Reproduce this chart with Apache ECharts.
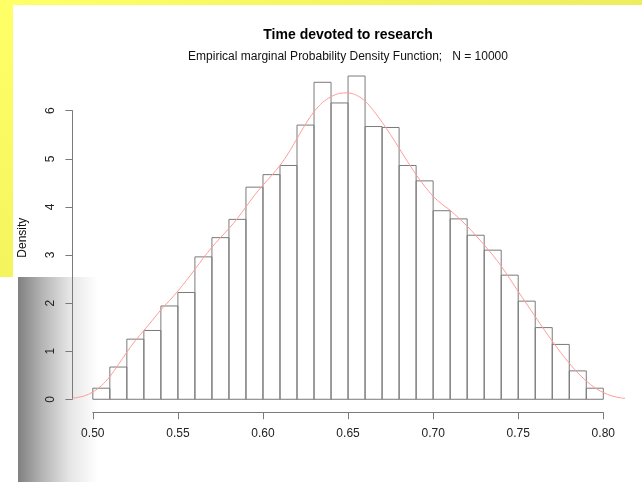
<!DOCTYPE html>
<html>
<head>
<meta charset="utf-8">
<script src="https://cdn.jsdelivr.net/npm/echarts@6/dist/echarts.min.js"></script>
<style>
  html, body { margin: 0; padding: 0; background: #ffffff; }
  #chart { width: 642px; height: 482px; }
</style>
</head>
<body>
<div id="chart"></div>
<script>
// Histogram bin edges (width 0.01) and the density of each bin
const binEdges = [0.50, 0.51, 0.52, 0.53, 0.54, 0.55, 0.56, 0.57, 0.58, 0.59,
                  0.60, 0.61, 0.62, 0.63, 0.64, 0.65, 0.66, 0.67, 0.68, 0.69,
                  0.70, 0.71, 0.72, 0.73, 0.74, 0.75, 0.76, 0.77, 0.78, 0.79, 0.80];
const binDensity = [0.23, 0.67, 1.25, 1.43, 1.94, 2.22, 2.96, 3.36, 3.74, 4.41,
                    4.67, 4.86, 5.70, 6.59, 6.16, 6.72, 5.67, 5.65, 4.86, 4.54,
                    3.92, 3.75, 3.41, 3.10, 2.58, 2.04, 1.49, 1.14, 0.59, 0.23];

// Kernel density estimate drawn over the histogram
const kdeX = [0.488, 0.495, 0.500, 0.505, 0.510, 0.515, 0.520, 0.525, 0.530, 0.535,
              0.540, 0.545, 0.550, 0.555, 0.560, 0.565, 0.570, 0.575, 0.580, 0.585,
              0.590, 0.595, 0.600, 0.605, 0.610, 0.615, 0.620, 0.625, 0.630, 0.635,
              0.640, 0.645, 0.650, 0.655, 0.660, 0.665, 0.670, 0.675, 0.680, 0.685,
              0.690, 0.695, 0.700, 0.705, 0.710, 0.715, 0.720, 0.725, 0.730, 0.735,
              0.740, 0.745, 0.750, 0.755, 0.760, 0.765, 0.770, 0.775, 0.780, 0.785,
              0.790, 0.795, 0.800, 0.805, 0.810, 0.815];
const kdeY = [0.02, 0.07, 0.15, 0.28, 0.47, 0.72, 0.98, 1.22, 1.43, 1.64,
              1.86, 2.05, 2.25, 2.47, 2.70, 2.94, 3.16, 3.36, 3.55, 3.76,
              4.00, 4.24, 4.45, 4.65, 4.86, 5.12, 5.42, 5.72, 5.98, 6.17,
              6.29, 6.36, 6.37, 6.32, 6.20, 6.00, 5.76, 5.50, 5.22, 4.94,
              4.67, 4.43, 4.22, 4.06, 3.93, 3.77, 3.60, 3.41, 3.21, 3.00,
              2.77, 2.51, 2.24, 1.98, 1.72, 1.46, 1.21, 0.97, 0.75, 0.55,
              0.38, 0.24, 0.14, 0.07, 0.03, 0.015];

// Axis ranges
const xTickMin = 0.50, xTickMax = 0.80, xTickStep = 0.05;
const yTickMin = 0, yTickMax = 6, yTickStep = 1;
const plotXMin = 0.488, plotXMax = 0.812;
const plotYMin = -0.2688, plotYMax = 6.9888;

const chartTitle = 'Time devoted to research';
const chartSubtitle = 'Empirical marginal Probability Density Function;   N = 10000';
const yAxisTitle = 'Density';

const bins = binDensity.map((d, i) => [binEdges[i], binEdges[i + 1], d]);
const kde = kdeX.map((x, i) => [x, kdeY[i]]);

const FONT = '"Liberation Sans", Arial, sans-serif';
const AXIS_GRAY = '#7a7a7a';

const chart = echarts.init(document.getElementById('chart'), null, { renderer: 'canvas' });

chart.setOption({
  backgroundColor: '#ffffff',
  animation: false,
  textStyle: { fontFamily: FONT },
  graphic: [
    // slide background strips
    { type: 'rect', z: -10, shape: { x: 0, y: 0, width: 642, height: 5 },
      style: { fill: new echarts.graphic.LinearGradient(0, 0, 1, 0, [
        { offset: 0, color: '#ffff66' }, { offset: 1, color: '#eded60' }]) } },
    { type: 'rect', z: -10, shape: { x: 0, y: 0, width: 13, height: 277 },
      style: { fill: new echarts.graphic.LinearGradient(0, 0, 0, 1, [
        { offset: 0, color: '#ffff66' }, { offset: 1, color: '#f4f45f' }]) } },
    // soft shadow at lower left
    { type: 'rect', z: -10, shape: { x: 18, y: 277, width: 80, height: 205 },
      style: { fill: new echarts.graphic.LinearGradient(0, 0, 1, 0, [
        { offset: 0, color: '#808080' }, { offset: 0.3, color: '#b4b4b4' },
        { offset: 0.65, color: '#e6e6e6' }, { offset: 1, color: '#ffffff' }]) } }
  ],
  title: [
    { text: chartTitle, left: 348, top: 28, textAlign: 'center', padding: 0,
      textStyle: { fontFamily: FONT, fontSize: 14, fontWeight: 'bold', color: '#000000' } },
    { text: chartSubtitle, left: 348, top: 50.5, textAlign: 'center', padding: 0,
      textStyle: { fontFamily: FONT, fontSize: 12, fontWeight: 'normal', color: '#111111' } }
  ],
  grid: [
    // plotting region
    { left: 72.4, right: 18.3, top: 63.1, bottom: 69.8 },
    // x axis drawn between first and last tick
    { left: 92.8, right: 38.7, top: 63.1, bottom: 69.8 },
    // y axis drawn between first and last tick
    { left: 72.4, right: 18.3, top: 110.7, bottom: 82.7 }
  ],
  xAxis: [
    { gridIndex: 0, type: 'value', min: plotXMin, max: plotXMax, show: false },
    { gridIndex: 1, type: 'value', min: xTickMin, max: xTickMax, interval: xTickStep,
      axisLine: { show: true, lineStyle: { color: AXIS_GRAY, width: 1 } },
      axisTick: { show: true, length: 7, lineStyle: { color: AXIS_GRAY, width: 1 } },
      axisLabel: { show: true, margin: 15, fontSize: 12, color: '#222222', fontFamily: FONT,
        formatter: v => v.toFixed(2) },
      splitLine: { show: false } },
    { gridIndex: 2, type: 'value', min: 0, max: 1, show: false }
  ],
  yAxis: [
    { gridIndex: 0, type: 'value', min: plotYMin, max: plotYMax,
      name: yAxisTitle, nameLocation: 'middle', nameGap: 44,
      nameTextStyle: { fontFamily: FONT, fontSize: 12, color: '#111111' },
      axisLine: { show: false }, axisTick: { show: false }, axisLabel: { show: false },
      splitLine: { show: false } },
    { gridIndex: 1, type: 'value', min: 0, max: 1, show: false },
    { gridIndex: 2, type: 'value', min: yTickMin, max: yTickMax, interval: yTickStep,
      axisLine: { show: true, lineStyle: { color: AXIS_GRAY, width: 1 } },
      axisTick: { show: true, length: 7, lineStyle: { color: AXIS_GRAY, width: 1 } },
      axisLabel: { show: true, rotate: 90, margin: 16, fontSize: 12, color: '#222222', fontFamily: FONT },
      splitLine: { show: false } }
  ],
  series: [
    {
      type: 'custom',
      xAxisIndex: 0, yAxisIndex: 0,
      data: bins,
      renderItem: function (params, api) {
        const p0 = api.coord([api.value(0), 0]);
        const p1 = api.coord([api.value(1), api.value(2)]);
        return {
          type: 'rect',
          shape: { x: p0[0], y: p1[1], width: p1[0] - p0[0], height: p0[1] - p1[1] },
          style: { fill: 'rgba(0,0,0,0)', stroke: '#7a7a7a', lineWidth: 1 }
        };
      },
      z: 2
    },
    {
      type: 'line',
      xAxisIndex: 0, yAxisIndex: 0,
      data: kde,
      showSymbol: false,
      smooth: 0.3,
      clip: true,
      lineStyle: { color: '#ff9c9c', width: 1 },
      z: 3
    }
  ]
});
</script>
</body>
</html>
